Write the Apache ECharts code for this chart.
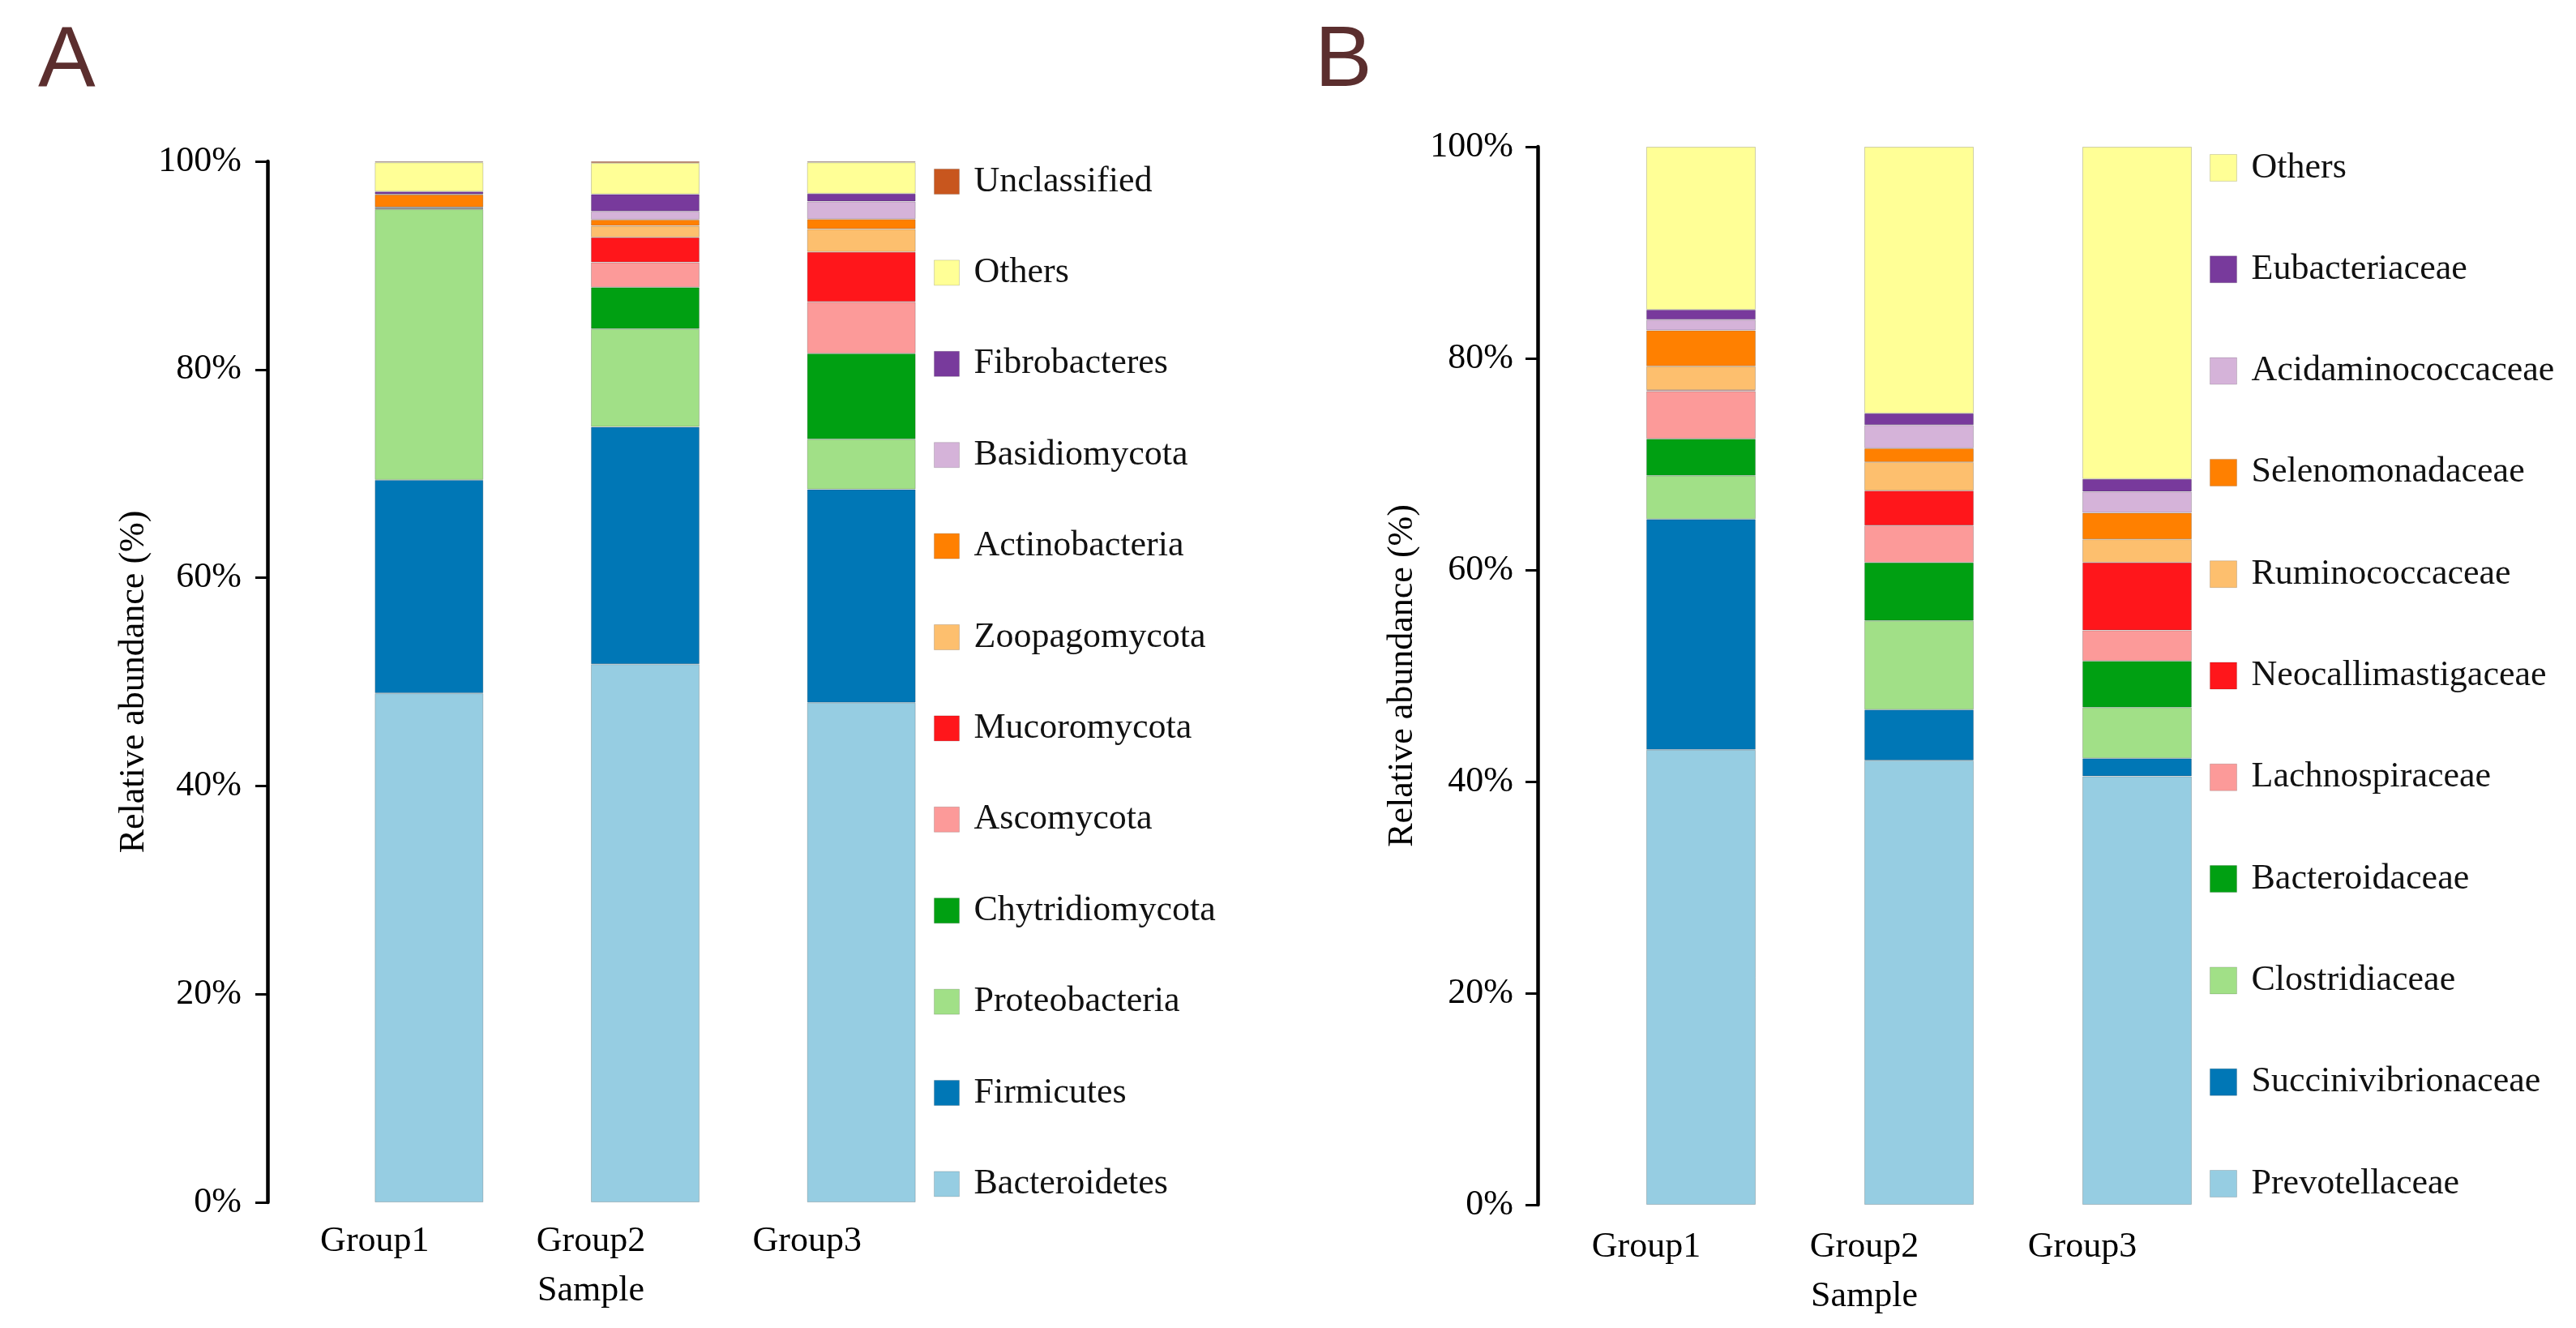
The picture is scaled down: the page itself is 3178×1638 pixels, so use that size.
<!DOCTYPE html>
<html>
<head>
<meta charset="utf-8">
<script src="https://cdn.jsdelivr.net/npm/echarts@6/dist/echarts.min.js"></script>
<style>
html,body{margin:0;padding:0;background:#fff;}
#chart{width:3178px;height:1638px;}
</style>
</head>
<body>
<div id="chart"></div>
<script>
// ---------- shared ----------
const categories = ['Group1', 'Group2', 'Group3'];
const yTickValues = [0, 20, 40, 60, 80, 100];

// ---------- Panel A: phylum level (% per group) ----------
const legendA = ['Unclassified', 'Others', 'Fibrobacteres', 'Basidiomycota', 'Actinobacteria',
  'Zoopagomycota', 'Mucoromycota', 'Ascomycota', 'Chytridiomycota', 'Proteobacteria',
  'Firmicutes', 'Bacteroidetes'];
const bacteroidetes   = [48.9, 51.7, 48.0];
const firmicutes      = [20.5, 22.8, 20.5];
const proteobacteria  = [26.0, 9.4, 4.8];
const chytridiomycota = [0.05, 4.0, 8.25];
const ascomycota      = [0.05, 2.4, 4.95];
const mucoromycota    = [0.05, 2.4, 4.8];
const zoopagomycota   = [0.05, 1.1, 2.2];
const actinobacteria  = [1.2, 0.6, 0.95];
const basidiomycota   = [0.05, 0.8, 1.7];
const fibrobacteres   = [0.25, 1.65, 0.75];
const othersA         = [2.8, 3.0, 3.0];
const unclassifiedA   = [0.1, 0.15, 0.1];

// ---------- Panel B: family level (% per group) ----------
const legendB = ['Others', 'Eubacteriaceae', 'Acidaminococcaceae', 'Selenomonadaceae',
  'Ruminococcaceae', 'Neocallimastigaceae', 'Lachnospiraceae', 'Bacteroidaceae',
  'Clostridiaceae', 'Succinivibrionaceae', 'Prevotellaceae'];
const prevotellaceae      = [43.0, 42.0, 40.5];
const succinivibrionaceae = [21.8, 4.8, 1.7];
const clostridiaceae      = [4.1, 8.4, 4.8];
const bacteroidaceae      = [3.5, 5.5, 4.4];
const lachnospiraceae     = [4.5, 3.5, 2.9];
const neocallimastigaceae = [0.1, 3.3, 6.4];
const ruminococcaceae     = [2.25, 2.7, 2.2];
const selenomonadaceae    = [3.4, 1.3, 2.5];
const acidaminococcaceae  = [1.0, 2.2, 2.0];
const eubacteriaceae      = [0.95, 1.1, 1.2];
const othersB             = [15.4, 25.2, 31.4];

// stacking order bottom -> top
const seriesA = [
  ['Bacteroidetes', bacteroidetes, '#96cde2'],
  ['Firmicutes', firmicutes, '#0077b6'],
  ['Proteobacteria', proteobacteria, '#a1e087'],
  ['Chytridiomycota', chytridiomycota, '#00a012'],
  ['Ascomycota', ascomycota, '#fc9a99'],
  ['Mucoromycota', mucoromycota, '#ff161b'],
  ['Zoopagomycota', zoopagomycota, '#fdbf6e'],
  ['Actinobacteria', actinobacteria, '#ff8000'],
  ['Basidiomycota', basidiomycota, '#d5b3d9'],
  ['Fibrobacteres', fibrobacteres, '#783a9c'],
  ['Others', othersA, '#ffff96'],
  ['Unclassified', unclassifiedA, '#c8561e']
];
const seriesB = [
  ['Prevotellaceae', prevotellaceae, '#96cde2'],
  ['Succinivibrionaceae', succinivibrionaceae, '#0077b6'],
  ['Clostridiaceae', clostridiaceae, '#a1e087'],
  ['Bacteroidaceae', bacteroidaceae, '#00a012'],
  ['Lachnospiraceae', lachnospiraceae, '#fc9a99'],
  ['Neocallimastigaceae', neocallimastigaceae, '#ff161b'],
  ['Ruminococcaceae', ruminococcaceae, '#fdbf6e'],
  ['Selenomonadaceae', selenomonadaceae, '#ff8000'],
  ['Acidaminococcaceae', acidaminococcaceae, '#d5b3d9'],
  ['Eubacteriaceae', eubacteriaceae, '#783a9c'],
  ['Others', othersB, '#ffff96']
];

const SERIF = 'Liberation Serif';
const FS = 44;

function xAx(gridIndex, shift, margin, nameGap) {
  return {
    type: 'category', gridIndex, data: categories,
    axisLine: {show: false}, axisTick: {show: false},
    axisLabel: {interval: 0, margin, color: '#000', fontFamily: SERIF, fontSize: FS,
      padding: [0, shift, 0, 0]},
    name: 'Sample', nameLocation: 'middle', nameGap,
    nameTextStyle: {color: '#000', fontFamily: SERIF, fontSize: FS, padding: [0, shift, 0, 0]}
  };
}
function yAx(gridIndex, offset, nameGap, margin) {
  return {
    type: 'value', gridIndex, min: 0, max: 100, interval: 20, offset,
    splitLine: {show: false},
    axisLine: {show: true, lineStyle: {color: '#000', width: 4.5}},
    axisTick: {show: true, length: 15, lineStyle: {color: '#000', width: 3}},
    axisLabel: {margin, color: '#000', fontFamily: SERIF, fontSize: FS,
      formatter: v => yTickValues.includes(v) ? v + '%' : ''},
    name: 'Relative abundance (%)', nameLocation: 'middle', nameGap,
    nameTextStyle: {color: '#000', fontFamily: SERIF, fontSize: FS}
  };
}
function mkSeries(list, idx, barWidth) {
  return list.map(([name, data, color]) => ({
    name, type: 'bar', stack: 'stack' + idx, xAxisIndex: idx, yAxisIndex: idx,
    data, barWidth, color,
    itemStyle: {color, borderColor: 'rgba(0,0,0,0.18)', borderWidth: 1},
    emphasis: {disabled: true}
  }));
}

const chart = echarts.init(document.getElementById('chart'), null, {renderer: 'canvas'});
chart.setOption({
  animation: false,
  backgroundColor: '#fff',
  textStyle: {fontFamily: SERIF},
  grid: [
    {left: 396, width: 800, top: 199, height: 1284},
    {left: 1964, width: 807, top: 181, height: 1305}
  ],
  xAxis: [xAx(0, 134, 26, 87), xAx(1, 135, 30, 91)],
  yAxis: [yAx(0, 66, 143, 32), yAx(1, 67, 145, 30)],
  legend: [
    {orient: 'vertical', left: 1147, top: 197, data: legendA, icon: 'rect',
     itemWidth: 31, itemHeight: 31, itemGap: 68.4, selectedMode: false,
     itemStyle: {borderColor: 'rgba(0,0,0,0.15)', borderWidth: 1},
     textStyle: {color: '#111', fontFamily: SERIF, fontSize: FS, lineHeight: 44, padding: [0, 0, 0, 13]}},
    {orient: 'vertical', left: 2721, top: 180, data: legendB, icon: 'rect',
     itemWidth: 33, itemHeight: 33, itemGap: 81.3, selectedMode: false,
     itemStyle: {borderColor: 'rgba(0,0,0,0.15)', borderWidth: 1},
     textStyle: {color: '#111', fontFamily: SERIF, fontSize: FS, lineHeight: 44, padding: [0, 0, 0, 13]}}
  ],
  graphic: [
    {type: 'text', left: 47, top: 24, style: {text: 'A', fontFamily: 'Liberation Sans', fontSize: 106, fill: '#5b2e2e'}},
    {type: 'text', left: 1622, top: 24, style: {text: 'B', fontFamily: 'Liberation Sans', fontSize: 106, fill: '#5b2e2e'}}
  ],
  series: [...mkSeries(seriesA, 0, 134), ...mkSeries(seriesB, 1, 135)]
});
</script>
</body>
</html>
